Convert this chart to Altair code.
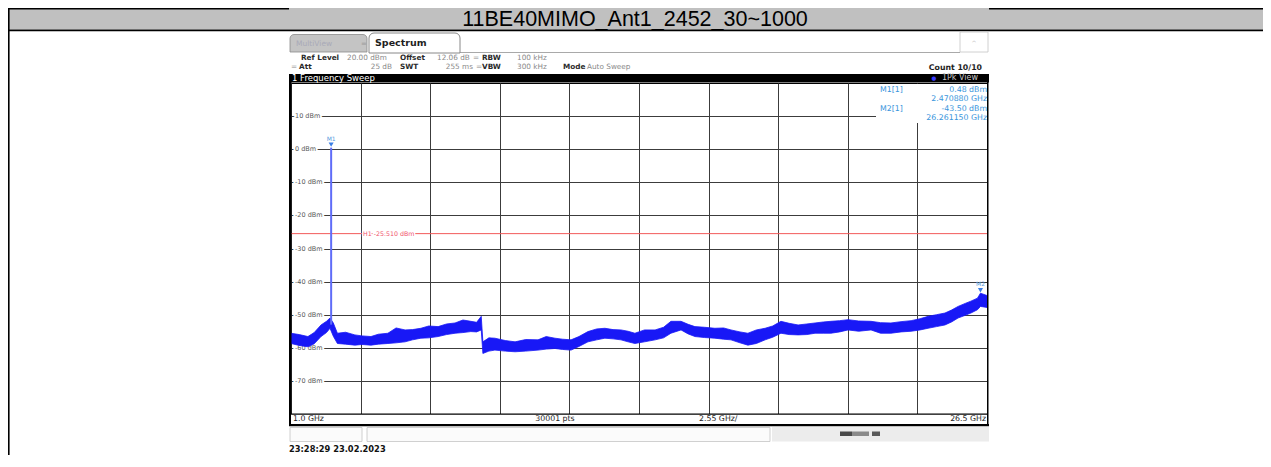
import altair as alt
import pandas as pd

TITLE = "11BE40MIMO_Ant1_2452_30~1000"

# ---- trace envelope (GHz, lower dBm, upper dBm) ----
freq = [1.00, 1.30, 1.62, 1.85, 2.10, 2.30, 2.43, 2.55, 2.70, 3.00, 3.34, 3.60, 3.93, 4.20,
        4.55, 4.85, 5.18, 5.45, 5.76, 6.05, 6.39, 6.70, 7.01, 7.30, 7.59, 7.80, 7.97, 8.03,
        8.25, 8.47, 8.85, 9.21, 9.60, 10.05, 10.35, 10.67, 10.95, 11.26, 11.55, 11.88, 12.20,
        12.50, 12.80, 13.09, 13.35, 13.60, 13.95, 14.34, 14.65, 14.92, 15.29, 15.55, 15.80,
        16.15, 16.53, 16.85, 17.12, 17.45, 17.74, 18.05, 18.37, 18.65, 18.95, 19.25, 19.58,
        19.90, 20.20, 20.50, 20.78, 21.10, 21.41, 21.80, 22.25, 22.60, 22.98, 23.35, 23.72,
        24.05, 24.34, 24.65, 24.96, 25.20, 25.44, 25.70, 25.91, 26.15, 26.26, 26.50]
lo = [-58.7, -59.3, -59.7, -58.8, -56.6, -55.4, -54.1, -56.5, -58.7, -58.9, -59.2, -59.0, -59.2, -58.9,
      -58.7, -58.5, -58.2, -57.6, -57.1, -57.0, -56.6, -56.0, -55.6, -55.4, -55.1, -55.2, -54.6, -61.7,
      -61.0, -60.7, -61.0, -61.2, -61.0, -60.7, -60.4, -60.2, -60.5, -60.7, -59.6, -58.2, -57.6,
      -57.1, -57.3, -57.6, -58.2, -58.7, -58.2, -57.6, -57.0, -55.6, -54.6, -55.8, -56.6,
      -56.9, -57.1, -57.4, -57.6, -58.5, -59.2, -58.7, -57.6, -56.8, -55.6, -56.0, -56.1,
      -56.0, -55.6, -55.6, -55.6, -55.2, -54.6, -55.0, -54.6, -55.6, -55.6, -55.2, -55.0,
      -54.6, -54.1, -53.6, -53.1, -52.2, -51.0, -50.2, -49.5, -48.5, -47.5, -47.8]
hi = [-55.6, -56.0, -56.6, -55.4, -53.1, -52.0, -51.0, -52.5, -55.6, -55.3, -56.1, -56.4, -56.6, -55.9,
      -55.6, -54.0, -54.6, -54.5, -54.1, -53.4, -53.6, -52.8, -52.5, -51.6, -52.0, -52.3, -50.5, -58.2,
      -57.0, -57.1, -57.8, -58.2, -57.5, -57.6, -56.6, -57.1, -57.4, -57.6, -56.6, -55.1, -54.3,
      -54.1, -54.5, -54.6, -55.0, -55.6, -54.6, -54.6, -53.8, -52.0, -52.0, -52.9, -53.6,
      -53.8, -54.1, -54.0, -54.6, -55.2, -55.6, -54.6, -54.1, -53.4, -52.0, -52.6, -53.1,
      -52.8, -52.5, -52.2, -52.0, -51.8, -51.5, -51.9, -52.0, -52.4, -52.5, -52.1, -51.8,
      -51.2, -50.5, -50.0, -49.5, -48.6, -47.5, -46.6, -45.9, -45.0, -43.5, -44.2]

# markers and display line
m_name = ["M1", "M2"]
m_freq = [2.470880, 26.261150]
m_level = [0.48, -43.50]
spike_base = [-53.0]
h1_level = [-25.51]
h1_label = ["H1  -25.510 dBm"]

# grid / labels
x_ticks = [1.0, 3.55, 6.1, 8.65, 11.2, 13.75, 16.3, 18.85, 21.4, 23.95, 26.5]
y_levels = [10, 0, -10, -20, -30, -40, -50, -60, -70]
y_labels = ["10 dBm", "0 dBm", "-10 dBm", "-20 dBm", "-30 dBm", "-40 dBm", "-50 dBm", "-60 dBm", "-70 dBm"]

# ---------------------------------------------------------------------------
X0, Y0 = 291, 83          # page position of plot origin
W, H = 696, 331
ONE = alt.Data(values=[{"k": 0}])
FONT = "DejaVu Sans"

xs = alt.Scale(domain=[1.0, 26.5], nice=False, zero=False)
ys = alt.Scale(domain=[-80, 20], nice=False, zero=False)
xa = alt.Axis(values=x_ticks, grid=True, gridColor="#3c3c3c", gridWidth=1, labels=False,
              ticks=False, domain=False, title=None)
ya = alt.Axis(values=y_levels, grid=True, gridColor="#3c3c3c", gridWidth=1, labels=False,
              ticks=False, domain=False, title=None)


def XF(field):
    return alt.X(field, type="quantitative", scale=xs, axis=xa)


def YF(field):
    return alt.Y(field, type="quantitative", scale=ys, axis=ya)


def T(x, y, s, size=7.5, color="#333", bold=False, align="left", font=FONT, baseline="middle"):
    return alt.Chart(ONE).mark_text(
        align=align, baseline=baseline, font=font, fontSize=size,
        fontWeight="bold" if bold else "normal", color=color
    ).encode(x=alt.value(x - X0), y=alt.value(y - Y0), text=alt.value(s))


def R(x1, x2, y1, y2, fill, stroke=None, sw=1, r=0):
    kw = dict(fill=fill, opacity=1)
    if stroke:
        kw.update(stroke=stroke, strokeWidth=sw)
    if r:
        kw.update(cornerRadiusTopLeft=r, cornerRadiusTopRight=r)
    return alt.Chart(ONE).mark_rect(**kw).encode(
        x=alt.value(x1 - X0), x2=alt.value(x2 - X0),
        y=alt.value(y1 - Y0), y2=alt.value(y2 - Y0))


trace_df = pd.DataFrame({"f": freq, "lo": lo, "hi": hi})
ylab_df = pd.DataFrame({"v": y_levels, "lab": y_labels})
mk_df = pd.DataFrame({"f": m_freq, "v": m_level, "name": m_name})
spike_df = pd.DataFrame({"f": [m_freq[0]], "v0": spike_base, "v1": [m_level[0]]})
h1_df = pd.DataFrame({"v": h1_level, "lab": h1_label})

layers = []

# ---- document frame / title band ----
layers += [
    R(8, 1263, 8, 29.5, "#c0c0c0"),
    R(8, 289, 8, 9.5, "#000000"),
    R(989, 1263, 8, 9.5, "#000000"),
    R(8, 1263, 29.5, 31.2, "#000000"),
    R(8, 9.6, 8, 460, "#000000"),
    T(635, 26, TITLE, size=21.5, color="#000000", font="Liberation Sans", align="center",
      baseline="alphabetic"),
]

# ---- instrument header ----
layers += [
    R(290, 367, 34.5, 52, "#c4c4c4", stroke="#8a8a8a", sw=0.8, r=4),
    T(296, 44, "MultiView", size=7.5, color="#a9aab8"),
    T(361, 44, "=", size=7, color="#9a9a9a"),
    R(369, 460, 33, 53, "#ffffff", stroke="#7a7a7a", sw=0.9, r=5),
    T(375, 43, "Spectrum", size=9.5, color="#1e1e1e", bold=True),
    R(460, 960, 52.3, 53, "#8c8c8c"),
    R(960, 988, 32, 52, "#ffffff", stroke="#c4c4c4", sw=0.8),
    T(974, 43, "^", size=6, color="#aaaaaa", align="center"),
    # info line 1
    T(301, 58, "Ref Level", size=7.3, color="#2a2a2a", bold=True),
    T(347, 58, "20.00 dBm", size=7.3, color="#8a8a8a"),
    T(400, 58, "Offset", size=7.3, color="#2a2a2a", bold=True),
    T(437, 58, "12.06 dB", size=7.3, color="#8a8a8a"),
    T(473, 58, "=", size=7.3, color="#8a8a8a"),
    T(482, 58, "RBW", size=7.3, color="#2a2a2a", bold=True),
    T(517, 58, "100 kHz", size=7.3, color="#8a8a8a"),
    # info line 2
    T(291, 66.5, "=", size=7.3, color="#8a8a8a"),
    T(299, 66.5, "Att", size=7.3, color="#2a2a2a", bold=True),
    T(392, 66.5, "25 dB", size=7.3, color="#8a8a8a", align="right"),
    T(400, 66.5, "SWT", size=7.3, color="#2a2a2a", bold=True),
    T(473, 66.5, "255 ms", size=7.3, color="#8a8a8a", align="right"),
    T(476, 66.5, "=", size=7.3, color="#8a8a8a"),
    T(482, 66.5, "VBW", size=7.3, color="#2a2a2a", bold=True),
    T(517, 66.5, "300 kHz", size=7.3, color="#8a8a8a"),
    T(563, 66.5, "Mode", size=7.3, color="#2a2a2a", bold=True),
    T(587, 66.5, "Auto Sweep", size=7.3, color="#8a8a8a"),
    T(982, 67.5, "Count 10/10", size=7.8, color="#1e1e1e", bold=True, align="right"),
    # sweep bar
    R(289, 989, 74, 82.5, "#000000"),
    T(292, 78.3, "1 Frequency Sweep", size=8.5, color="#ffffff"),
    T(934, 78.3, "\u25cf", size=5.5, color="#3a3aff", align="center"),
    T(978, 78.3, "1Pk View", size=8, color="#c8c8c8", align="right"),
]

# ---- y labels with white halo over the grid ----
layers += [
    alt.Chart(ylab_df).mark_text(align="left", baseline="middle", font=FONT, fontSize=6.5,
                                 color="#ffffff", stroke="#ffffff", strokeWidth=4,
                                 strokeJoin="round").encode(
        x=alt.value(4), y=YF("v"), text="lab:N"),
    alt.Chart(ylab_df).mark_text(align="left", baseline="middle", font=FONT, fontSize=6.5,
                                 color="#5a5a5a").encode(
        x=alt.value(4), y=YF("v"), text="lab:N"),
]

# ---- display line H1 ----
layers += [
    alt.Chart(h1_df).mark_rule(color="#f25a5a", strokeWidth=1).encode(y=YF("v")),
    alt.Chart(h1_df).mark_text(align="left", baseline="middle", font=FONT, fontSize=6.3,
                               color="#ffffff", stroke="#ffffff", strokeWidth=3,
                               strokeJoin="round").encode(
        x=alt.value(72), y=YF("v"), text="lab:N"),
    alt.Chart(h1_df).mark_text(align="left", baseline="middle", font=FONT, fontSize=6.3,
                               color="#f0506a").encode(
        x=alt.value(72), y=YF("v"), text="lab:N"),
]

# ---- trace ----
layers += [
    alt.Chart(trace_df).mark_area(color="#1818f6", opacity=1, line=False,
                                  stroke="#1818f6", strokeWidth=0.8).encode(
        x=XF("f"), y=YF("lo"), y2="hi:Q"),
    alt.Chart(spike_df).mark_rule(color="#5f6cf8", strokeWidth=2).encode(
        x=XF("f"), y=YF("v0"), y2="v1:Q"),
]

# ---- marker table (white box over the grid) ----
MC = "#3a96dc"
layers += [
    R(876, 987, 84, 123, "#ffffff"),
    T(880, 89.5, "M1[1]", size=7.8, color=MC),
    T(987, 89.5, "0.48 dBm", size=7.8, color=MC, align="right"),
    T(987, 99, "2.470880 GHz", size=7.8, color=MC, align="right"),
    T(880, 108.5, "M2[1]", size=7.8, color=MC),
    T(987, 108.5, "-43.50 dBm", size=7.8, color=MC, align="right"),
    T(987, 118, "26.261150 GHz", size=7.8, color=MC, align="right"),
]

# ---- marker symbols ----
layers += [
    alt.Chart(mk_df).mark_point(shape="triangle-down", filled=True, size=26, color="#3a7fe6",
                                opacity=1, yOffset=-3).encode(x=XF("f"), y=YF("v")),
    alt.Chart(mk_df).mark_text(baseline="middle", font=FONT, fontSize=6, color="#5a9ee0",
                               dy=-9).encode(x=XF("f"), y=YF("v"), text="name:N"),
]

# ---- panel borders and bottom row ----
layers += [
    R(289, 291.5, 74, 426, "#000000"),
    R(987, 988.5, 74, 426, "#000000"),
    R(291, 987, 414.5, 424, "#ffffff"),
    R(291, 987, 413.6, 414.6, "#000000"),
    T(293, 419.3, "1.0 GHz", size=7.8, color="#1e1e1e"),
    T(555, 419.3, "30001 pts", size=7.8, color="#1e1e1e", align="center"),
    T(699, 419.3, "2.55 GHz/", size=7.8, color="#1e1e1e"),
    T(986, 419.3, "26.5 GHz", size=7.8, color="#1e1e1e", align="right"),
    R(289, 989, 424, 426.2, "#000000"),
    R(290, 362, 427.5, 441.5, "#fbfbfb", stroke="#c4c4c4", sw=0.8),
    R(367, 770, 427.5, 441.5, "#fbfbfb", stroke="#c4c4c4", sw=0.8),
    R(772, 989, 427, 441.5, "#ececec"),
    R(840, 852, 431.5, 436, "#4a4a4a"),
    R(852, 869, 431.5, 436, "#8a8a8a"),
    R(872, 880, 431.5, 436, "#5a5a5a"),
    T(289, 450, "23:28:29  23.02.2023", size=8.3, color="#111111", bold=True),
]

chart = alt.layer(*layers).properties(
    width=W, height=H,
    padding={"left": X0 - 8, "top": Y0 - 8, "right": 1263 - (X0 + W), "bottom": 41},
    autosize=alt.AutoSizeParams(type="none"),
    background="#ffffff",
).configure_view(stroke="#000000", strokeWidth=1)

chart.save("out.html", embed_options={"renderer": "svg", "actions": False})
